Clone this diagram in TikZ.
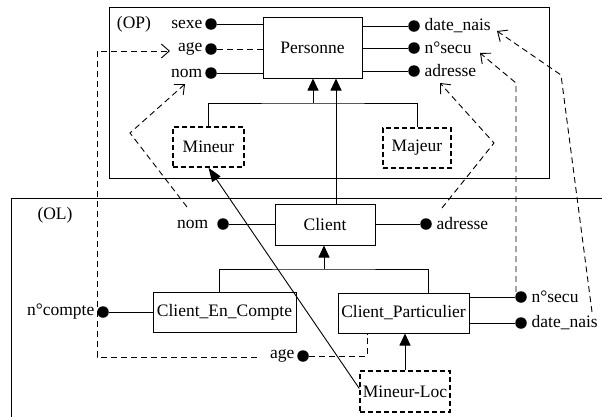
\documentclass[tikz,border=0pt]{standalone}
\usepackage{fontspec}
\setmainfont{Liberation Serif}
\usetikzlibrary{arrows.meta,calc}
\begin{document}
\begin{tikzpicture}[x=1pt,y=-1pt,
  font=\fontsize{17.5}{20}\selectfont,
  line width=0.9pt,
  box/.style={draw,inner sep=0pt,line width=1pt},
  vbox/.style={box,dash pattern=on 5pt off 3pt,line width=1.4pt},
  dot/.style={circle,fill,inner sep=0pt,minimum size=11.5pt},
  lbl/.style={inner sep=2pt},
  lblr/.style={inner sep=4pt},
  isa/.style={-{Triangle[length=12pt,width=11pt]}},
  map/.style={dash pattern=on 6pt off 4pt,-{Straight Barb[length=8pt,width=14pt]}},
  dsh/.style={dash pattern=on 6pt off 4pt}]
\useasboundingbox (0,0) rectangle (602,416);

% frames of the two layers
\draw (109,7) rectangle (549,178);
\node at (134,24) {(OP)};
\draw (605,198) -- (11,198) -- (11,420);
\node at (55,215) {(OL)};

% ---- OP layer ----
\node[box,minimum width=99pt,minimum height=61pt] (pers) at (312.5,47.5) {Personne};
\node[dot,label={[lbl]left:sexe}] (psexe) at (211,24) {};
\node[dot,label={[lbl]left:age}] (page) at (211,49) {};
\node[dot,label={[lbl,name=lpnom]left:nom}] (pnom) at (211,73) {};
\draw (psexe) -- (psexe -| pers.west);
\draw[dsh] (page) -- (page -| pers.west);
\draw (pnom) -- (pnom -| pers.west);

\node[dot,label={[lblr]right:date\_nais}] (pdate) at (414,26) {};
\node[dot,label={[lblr]right:n°secu}] (psecu) at (414,48) {};
\node[dot,label={[lblr]right:adresse}] (padr) at (414,71) {};
\draw (pdate) -- (pdate -| pers.east);
\draw (psecu) -- (psecu -| pers.east);
\draw (padr) -- (padr -| pers.east);

\node[vbox,minimum width=71pt,minimum height=40pt] (min) at (208.5,147) {Mineur};
\node[vbox,minimum width=68pt,minimum height=40pt] (maj) at (417,148) {Majeur};
\coordinate (hop) at (313,103);
\draw (min.north) |- (hop) -| (maj.north);
\draw[isa] (hop) -- (hop |- pers.south);

% ---- OL layer ----
\node[box,minimum width=100pt,minimum height=41pt] (cli) at (325,224.5) {Client};
\coordinate (cup) at (336,204);
\draw[isa] (cup) -- (cup |- pers.south);

\node[dot,label={[lbl,label distance=6pt]left:nom}] (cnom) at (223,224) {};
\node[dot,label={[lblr]right:adresse}] (cadr) at (426,224) {};
\draw (cnom) -- (cnom -| cli.west);
\draw (cadr) -- (cadr -| cli.east);

\node[box,minimum width=143pt,minimum height=40pt] (cec) at (224.5,312) {Client\_En\_Compte};
\node[box,minimum width=131pt,minimum height=40pt] (cp) at (403.5,313) {Client\_Particulier};
\coordinate (hol) at (324,269);
\draw ($(cec.north)+(-5.5,0)$) |- (hol) -| ($(cp.north)+(24.5,0)$);
\draw[isa] (hol) -- (hol |- cli.south);

\node[dot,label={[lbl]left:n°compte}] (ccpt) at (103,312) {};
\draw (ccpt) -- (cec.west);
\node[dot,label={[lblr]right:n°secu}] (csecu) at (521,297) {};
\node[dot,label={[lblr]right:date\_nais}] (cdate) at (521,323) {};
\draw (csecu) -- (csecu -| cp.east);
\draw (cdate) -- (cdate -| cp.east);
\node[dot,label={[lbl]left:age}] (cage) at (303,356) {};
\draw[dsh] (cage) -| ($(cp.south)+(-36.5,0)$);

\node[vbox,minimum width=90pt,minimum height=41pt] (ml) at (405,391.5) {Mineur-Loc};
\draw[isa] (ml.north) -- (ml.north |- cp.south);
\draw[-{Triangle[length=14pt,width=10pt]}] ($(ml.west)+(0,-3)$) -- (min.south);

% ---- correspondences OL -> OP ----
\coordinate (m1a) at (187,207); \coordinate (m1b) at (130,133); \coordinate (m1c) at (185,84);
\draw[map] (m1a) -- (m1b) -- (m1c);
\coordinate (m2a) at (442,208); \coordinate (m2b) at (494,143); \coordinate (m2c) at (440,83);
\draw[map] (m2a) -- (m2b) -- (m2c);
\coordinate (m3a) at (516,292); \coordinate (m3b) at (516,83); \coordinate (m3c) at (480,53);
\draw[map] (m3a) -- (m3b) -- (m3c);
\coordinate (m4a) at (592,312); \coordinate (m4b) at (561,75); \coordinate (m4c) at (497,31);
\draw[map] (m4a) -- (m4b) -- (m4c);
\coordinate (m5a) at (257,357); \coordinate (m5b) at (97,357); \coordinate (m5c) at (97,51); \coordinate (m5d) at (170,51);
\draw[map] (m5a) -- (m5b) -- (m5c) -- (m5d);
\end{tikzpicture}
\end{document}
